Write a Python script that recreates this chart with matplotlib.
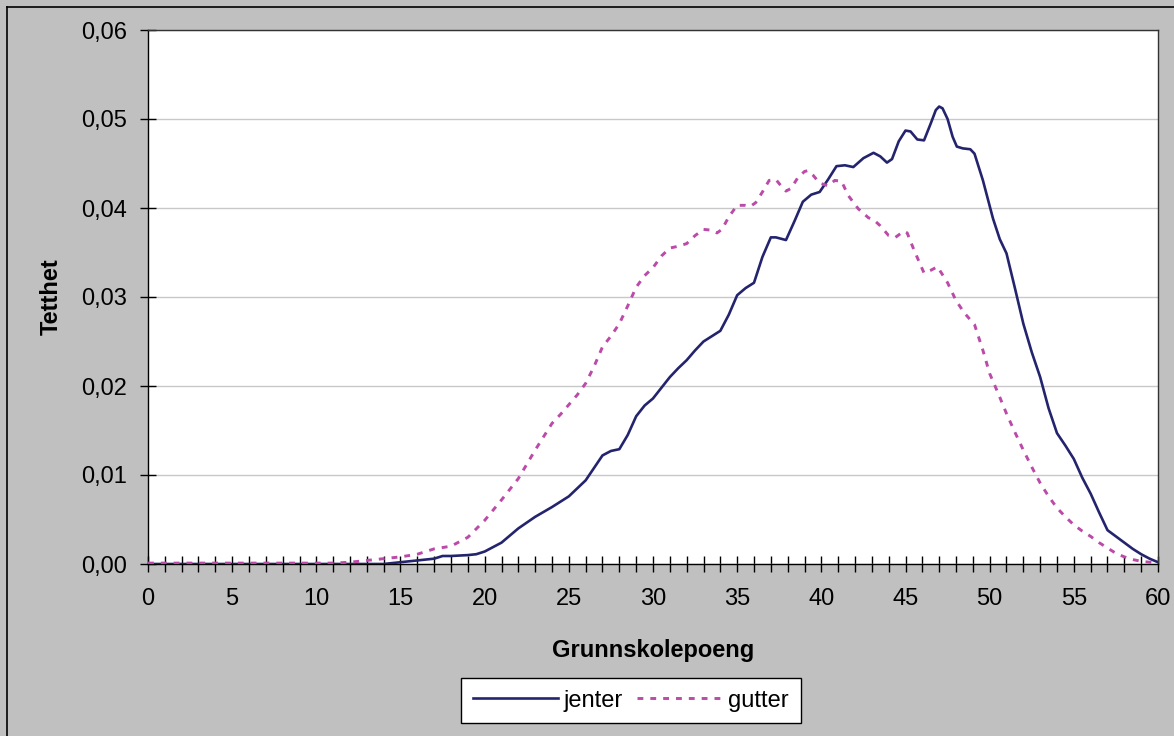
import matplotlib
matplotlib.use("Agg")
import matplotlib.pyplot as plt
from matplotlib.lines import Line2D

# ---- data ----
jenter_x = [0, 1, 2, 3, 4, 5, 6, 7, 8, 9, 10, 11, 12, 13, 14, 14.5, 15, 16, 17, 17.5, 18, 19, 19.5,
            20, 21, 22, 23, 24, 25, 26, 26.5, 27, 27.5, 28, 28.5, 29, 29.5, 30, 30.5, 31, 31.5,
            32, 32.5, 33, 33.5, 34, 34.5, 35, 35.5, 36, 36.5, 37, 37.3, 37.9, 38.4, 38.9, 39.4,
            39.9, 40.4, 40.9, 41.4, 41.9, 42.5, 43.1, 43.5, 43.9, 44.2, 44.6, 45.0, 45.3, 45.7,
            46.1, 46.5, 46.8, 47.0, 47.2, 47.5, 47.8, 48.05, 48.4, 48.85, 49.1, 49.6, 50.2, 50.6,
            51, 51.5, 52, 52.5, 53, 53.5, 54, 54.5, 55, 55.5, 56, 56.5, 57, 57.5, 58, 58.5, 59,
            59.5, 60]
jenter_y = [0, 0, 0, 0, 0, 0, 0, 0, 0, 0, 0, 0, 0, 0, 0, 0.0001, 0.0002, 0.0004, 0.0006, 0.0009,
            0.0009, 0.0010, 0.0011, 0.0014, 0.0024, 0.0040, 0.0053, 0.0064, 0.0076, 0.0094,
            0.0108, 0.0122, 0.0127, 0.0129, 0.0145, 0.0166, 0.0178, 0.0186, 0.0198, 0.0210,
            0.0220, 0.0229, 0.0240, 0.0250, 0.0256, 0.0262, 0.0280, 0.0302, 0.0310, 0.0316,
            0.0345, 0.0367, 0.0367, 0.0364, 0.0385, 0.0407, 0.0415, 0.0418, 0.0432, 0.0447,
            0.0448, 0.0446, 0.0456, 0.0462, 0.0458, 0.0451, 0.0455, 0.0475, 0.0487, 0.0486,
            0.0477, 0.0476, 0.0495, 0.0510, 0.0514, 0.0512, 0.0500, 0.0480, 0.0469, 0.0467,
            0.0466, 0.0461, 0.0431, 0.0388, 0.0365, 0.0349, 0.0310, 0.0270, 0.0238, 0.0210,
            0.0175, 0.0147, 0.0133, 0.0118, 0.0097, 0.0079, 0.0058, 0.0038, 0.0031, 0.0024,
            0.0017, 0.0011, 0.0006, 0.0002]

gutter_x = [0, 1, 2, 3, 4, 5, 6, 7, 8, 9, 10, 11, 12, 13, 14, 15, 16, 17, 18, 19, 20, 21, 22,
            22.5, 23, 23.5, 24, 24.5, 25, 25.5, 26, 26.5, 27, 27.5, 28, 28.5, 29, 29.5, 30, 30.5,
            31, 31.5, 32, 32.5, 33, 33.5, 33.8, 34.1, 34.5, 35, 35.5, 35.8, 36.1, 36.5, 36.9,
            37.3, 37.6, 37.9, 38.2, 38.6, 39.0, 39.2, 39.5, 39.9, 40.4, 40.8, 41.2, 41.6, 42.2,
            42.8, 43.1, 43.5, 44.0, 44.4, 44.9, 45.1, 45.5, 46.1, 46.5, 46.9, 47.5, 48, 48.5,
            49.1, 49.6, 50, 50.5, 51, 51.5, 52, 52.5, 53, 53.5, 54, 54.5, 55, 55.5, 56, 56.5,
            57, 57.5, 58, 58.5, 59, 59.5, 60]
gutter_y = [0.0001, 0.0001, 0.0001, 0.0001, 0.0001, 0.0001, 0.0001, 0.0001, 0.0001, 0.0001,
            0.0001, 0.0001, 0.0002, 0.0004, 0.0006, 0.0008, 0.0011, 0.0017, 0.0020, 0.0030,
            0.0049, 0.0072, 0.0096, 0.0112, 0.0128, 0.0143, 0.0158, 0.0168, 0.0179, 0.0190,
            0.0203, 0.0222, 0.0244, 0.0256, 0.0270, 0.0290, 0.0311, 0.0324, 0.0333, 0.0346,
            0.0355, 0.0357, 0.0360, 0.0369, 0.0376, 0.0375, 0.0372, 0.0376, 0.0390, 0.0403,
            0.0403, 0.0402, 0.0406, 0.0418, 0.0431, 0.0432, 0.0425, 0.0419, 0.0422, 0.0434,
            0.0441, 0.0442, 0.0437, 0.0428, 0.0425, 0.0431, 0.0430, 0.0414, 0.0399, 0.0389,
            0.0387, 0.0380, 0.0369, 0.0367, 0.0374, 0.0372, 0.0353, 0.0327, 0.0330, 0.0334,
            0.0316, 0.0296, 0.0282, 0.0269, 0.0240, 0.0214, 0.0192, 0.0169, 0.0148, 0.0128,
            0.0109, 0.0091, 0.0076, 0.0063, 0.0053, 0.0044, 0.0037, 0.0031, 0.0024, 0.0018,
            0.0012, 0.0008, 0.0005, 0.0003, 0.0002, 0.0001]

y_ticks = [0.0, 0.01, 0.02, 0.03, 0.04, 0.05, 0.06]
y_labels = ["0,00", "0,01", "0,02", "0,03", "0,04", "0,05", "0,06"]
x_major = [0, 5, 10, 15, 20, 25, 30, 35, 40, 45, 50, 55, 60]
x_labels = [str(v) for v in x_major]
x_title = "Grunnskolepoeng"
y_title = "Tetthet"
series_names = ["jenter", "gutter"]

# ---- style ----
plt.rcParams['font.family'] = ['Liberation Sans', 'DejaVu Sans']
W, H = 1174, 736
fig = plt.figure(figsize=(W / 100, H / 100), dpi=100)
fig.patch.set_facecolor('#c0c0c0')

# outer frame lines (top and left visible)
fig.add_artist(Line2D([7 / W, 1.0], [1 - 7 / H, 1 - 7 / H], color='black', lw=1.2,
                      transform=fig.transFigure))
fig.add_artist(Line2D([7 / W, 7 / W], [0.0, 1 - 7 / H], color='black', lw=1.2,
                      transform=fig.transFigure))

left, right, top, bottom = 148, 1158, 30, 564
ax = fig.add_axes([left / W, 1 - bottom / H, (right - left) / W, (bottom - top) / H])
ax.set_facecolor('white')

navy = '#24246e'
pink = '#bb4aa8'
dash = (0, (2.0, 2.4))

ax.plot(jenter_x, jenter_y, color=navy, lw=1.9, solid_joinstyle='round', zorder=3,
        label=series_names[0])
ax.plot(gutter_x, gutter_y, color=pink, lw=2.1, linestyle=dash, zorder=3,
        label=series_names[1])

ax.set_xlim(0, 60)
ax.set_ylim(0, 0.06)
ax.set_yticks(y_ticks)
ax.set_yticklabels(y_labels)
ax.set_xticks(x_major)
ax.set_xticklabels(x_labels)
ax.set_xticks(list(range(0, 61)), minor=True)

ax.yaxis.grid(True, color='#c8c8c8', lw=1.0)
ax.set_axisbelow(True)

for s in ax.spines.values():
    s.set_color('black')
    s.set_linewidth(1.0)
ax.spines['top'].set_color('#333333')
ax.spines['right'].set_color('#333333')

ax.tick_params(axis='y', which='major', direction='inout', length=12, width=1.0,
               labelsize=17, pad=9, colors='black')
ax.tick_params(axis='x', which='both', direction='inout', length=12, width=1.0,
               labelsize=17, pad=11, colors='black')

ax.set_xlabel(x_title, fontsize=17, fontweight='bold', labelpad=21)
ax.set_ylabel(y_title, fontsize=17, fontweight='bold', labelpad=13)

handles = [Line2D([], [], color=navy, lw=1.9),
           Line2D([], [], color=pink, lw=2.1, linestyle=dash)]
leg = fig.legend(handles, series_names, loc='center', ncol=2,
                 bbox_to_anchor=(631 / W, 1 - 700.5 / H), fontsize=17,
                 frameon=True, fancybox=False, shadow=False, handlelength=3.6,
                 handletextpad=0.25, columnspacing=0.6, borderpad=0.5,
                 borderaxespad=0, framealpha=1.0)
leg.get_frame().set_edgecolor('black')
leg.get_frame().set_linewidth(1.0)
leg.get_frame().set_facecolor('white')

fig.savefig('out.png', dpi=100, facecolor=fig.get_facecolor())
